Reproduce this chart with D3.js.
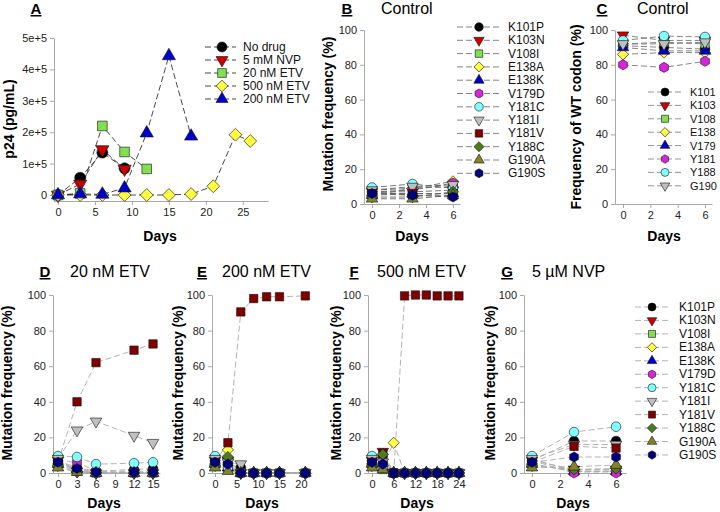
<!DOCTYPE html>
<html>
<head>
<style>
  body { margin: 0; background: #fff; }
  svg text { font-family: Arial, "Liberation Sans", sans-serif; }
  .axis .domain, .axis line { stroke: #a8a8a8; }
  .axis text { fill: #222; font-size: 11px; }
</style>
</head>
<body>
<svg class="chart" width="720" height="512"></svg>
<script src="https://cdn.jsdelivr.net/npm/d3@7"></script>
<script>

// ---- panel A: p24
const aSeries = ['No drug', '5 mM NVP', '20 nM ETV', '500 nM ETV', '200 nM ETV']
const aDays = [
  [0, 3, 6, 9],
  [0, 3, 6, 9],
  [0, 3, 6, 9, 12],
  [0, 3, 6, 9, 12, 15, 18, 21, 24, 26],
  [0, 3, 6, 9, 12, 15, 18]
]
const aP24 = [
  [0, 55000, 135000, 85000],
  [0, 35000, 145000, 83000],
  [0, 5000, 220000, 137000, 83000],
  [0, 0, 0, 0, 0, 0, 3000, 28000, 192000, 172000],
  [0, 3000, 2000, 22000, 197000, 443000, 187000]
]
const aXTicks = [0, 5, 10, 15, 20, 25]
const aYTicks = [0, 100000, 200000, 300000, 400000, 500000]
const aYTickLabels = ['0', '1e+5', '2e+5', '3e+5', '4e+5', '5e+5']

// ---- mutations (panels B, D-G)
const mutations = ['K101P', 'K103N', 'V108I', 'E138A', 'E138K', 'V179D', 'Y181C', 'Y181I', 'Y181V', 'Y188C', 'G190A', 'G190S']
const freqTicks = [0, 20, 40, 60, 80, 100]

const bDays = [0, 3, 6]
const bFreq = [
  [7, 5, 5], [7, 7, 8], [8, 9, 10], [5, 9, 13], [5, 6, 6], [7, 8, 12],
  [9.5, 11.5, 9], [8, 10, 11], [6, 6, 6], [4, 4, 7], [3, 3, 5], [6, 5, 4]
]
const bXTicks = [0, 2, 4, 6]

// ---- panel C: WT codons
const codons = ['K101', 'K103', 'V108', 'E138', 'V179', 'Y181', 'Y188', 'G190']
const cDays = [0, 3, 6]
const cFreq = [
  [91, 90, 89], [97, 94, 94], [92, 93, 92], [86, 87, 87],
  [90, 88, 88], [80, 78.5, 82], [94, 96.5, 96], [92, 92, 93]
]

const dDays = [0, 3, 6, 12, 15]
const dFreq = [
  [7, 3, 1, 2, 2.5], [7, 1, 0, 0, 0], [8, 1, 0, 0, 0], [5, 1, 0, 0, 0],
  [5, 2, 0, 0, 0], [7, 6, 1, 1, 1], [9.5, 9, 5, 5.5, 6], [8, 24, 29, 21, 17],
  [6, 40, 62, 69, 72.5], [4, 0.5, 0, 0, 0], [3, 0.5, 0, 0, 0], [6, 2.5, 0.5, 0.5, 0.5]
]
const dXTicks = [0, 3, 6, 9, 12, 15]

const eDays = [0, 3, 6, 9, 12, 15, 21]
const eFreq = [
  [7, 5, 3, 0, 0, 0, 0], [7, 7, 0, 0, 0, 0, 0], [8, 2, 0, 0, 0, 0, 0], [5, 13, 0, 0, 0, 0, 0],
  [5, 3, 0, 0, 0, 0, 0], [7, 4, 0, 0, 0, 0, 0], [9.5, 3, 0, 0, 0, 0, 0], [8, 6, 5, 0, 0, 0, 0],
  [6, 17, 90.5, 98, 99, 99, 99.5], [4, 9, 0, 0, 0, 0, 0], [3, 1, 0, 0, 0, 0, 0], [6, 5, 0, 0, 0, 0, 0]
]
const eXTicks = [0, 5, 10, 15, 20]

const fDays = [0, 3, 6, 9, 12, 15, 18, 21, 24]
const fFreq = [
  [7, 5, 0, 0, 0, 0, 0, 0, 0], [7, 12, 0, 0, 0, 0, 0, 0, 0], [8, 2, 0, 0, 0, 0, 0, 0, 0],
  [5, 4, 17, 0, 0, 0, 0, 0, 0], [5, 3, 0, 0, 0, 0, 0, 0, 0], [7, 8, 0, 0, 0, 0, 0, 0, 0],
  [9.5, 3, 0, 0, 0, 0, 0, 0, 0], [8, 6, 0, 0, 0, 0, 0, 0, 0], [6, 11, 0, 99.5, 100, 100, 99.5, 99.5, 99.5],
  [4, 10.5, 0, 0, 0, 0, 0, 0, 0], [3, 2, 0, 0, 0, 0, 0, 0, 0], [6, 5, 0, 0, 0, 0, 0, 0, 0]
]
const fXTicks = [0, 6, 12, 18, 24]

const gDays = [0, 3, 6]
const gFreq = [
  [7, 18, 18], [7, 2, 2], [8, 1, 1], [5, 1, 1], [5, 1, 1], [7, 0, 0],
  [9.5, 23, 26], [8, 16, 16], [6, 15, 14], [4, 2, 2.5], [3, 3.5, 4.5], [6, 9, 9]
]
const gXTicks = [0, 2, 4, 6]

// ---- styles
const mutColors = ['#000000', '#cc0000', '#80e050', '#ffff40', '#0000cc', '#dd22dd',
  '#80ffff', '#c0c0c0', '#800000', '#4a7d1c', '#84842a', '#000080']
const mutShapes = ['circle', 'down', 'square', 'diamond', 'up', 'hexagon',
  'circle', 'down', 'square', 'diamond', 'up', 'hexagon']
const aColors = ['#000000', '#cc0000', '#80e050', '#ffff40', '#0000cc']
const aShapes = ['circle', 'down', 'square', 'diamond', 'up']
const cColors = ['#000000', '#cc0000', '#80e050', '#ffff40', '#0000cc', '#dd22dd', '#80ffff', '#c0c0c0']
const cShapes = ['circle', 'down', 'square', 'diamond', 'up', 'hexagon', 'circle', 'down']

const svg = d3.select('.chart')

const symbolHexagon = {
  draw(ctx, size) {
    const r = Math.sqrt(size / (1.5 * Math.sqrt(3)))
    for (let i = 0; i < 6; i++) {
      const a = Math.PI / 3 * i + Math.PI / 6
      if (i === 0) ctx.moveTo(r * Math.cos(a), r * Math.sin(a))
      else ctx.lineTo(r * Math.cos(a), r * Math.sin(a))
    }
    ctx.closePath()
  }
}

function marker(g, shape, color, cx, cy, r) {
  let type = d3.symbolCircle, size = Math.PI * r * r, rot = 0
  if (shape === 'square') { type = d3.symbolSquare; size = Math.pow(1.75 * r, 2) }
  if (shape === 'diamond') { type = d3.symbolSquare; size = Math.pow(1.65 * r, 2); rot = 45 }
  if (shape === 'up' || shape === 'down') {
    type = d3.symbolTriangle; size = 0.433 * Math.pow(2.4 * r, 2)
    if (shape === 'down') rot = 180
  }
  if (shape === 'hexagon') { type = symbolHexagon; size = 2.598 * Math.pow(1.05 * r, 2) }
  g.append('path')
    .attr('d', d3.symbol(type, size)())
    .attr('transform', `translate(${cx},${cy}) rotate(${rot})`)
    .attr('fill', color)
    .attr('stroke', '#111')
    .attr('stroke-width', 0.6)
}

function panel(o) {
  const x = d3.scaleLinear().domain(o.xDomain).range(o.xRange)
  const y = d3.scaleLinear().domain(o.yDomain).range(o.yRange)

  svg.append('g').attr('class', 'axis')
    .attr('transform', `translate(0,${o.yRange[0]})`)
    .call(d3.axisBottom(x).tickValues(o.xTicks).tickSize(4).tickSizeOuter(0).tickPadding(3))

  svg.append('g').attr('class', 'axis')
    .attr('transform', `translate(${o.xRange[0]},0)`)
    .call(d3.axisLeft(y).tickValues(o.yTicks)
      .tickFormat((d, i) => o.yLabels ? o.yLabels[i] : d)
      .tickSize(4).tickSizeOuter(0).tickPadding(3))

  // letter + title
  svg.append('text').attr('x', o.letter[1]).attr('y', o.letter[2])
    .attr('text-anchor', 'middle').attr('font-size', 15).attr('font-weight', 'bold')
    .attr('text-decoration', 'underline').text(o.letter[0])
  if (o.title) {
    svg.append('text').attr('x', o.title[1]).attr('y', o.letter[2])
      .attr('font-size', 16).text(o.title[0])
  }

  svg.append('text').attr('x', o.xLabelX).attr('y', o.xLabelY)
    .attr('text-anchor', 'middle').attr('font-size', 14).attr('font-weight', 'bold').text('Days')

  svg.append('text')
    .attr('transform', `translate(${o.yLabelPos[0]},${o.yLabelPos[1]}) rotate(-90)`)
    .attr('text-anchor', 'middle').attr('font-size', 14).attr('font-weight', 'bold').text(o.yLabel)

  return { x, y }
}

function drawSeries(sc, daysList, valueList, colors, shapes, r, lineColor) {
  const line = d3.line().x(d => sc.x(d[0])).y(d => sc.y(d[1]))
  const gl = svg.append('g')
  const gm = svg.append('g')
  valueList.forEach((vals, i) => {
    const days = Array.isArray(daysList[0]) ? daysList[i] : daysList
    const pts = days.map((d, j) => [d, vals[j]])
    gl.append('path').attr('d', line(pts)).attr('fill', 'none')
      .attr('stroke', lineColor).attr('stroke-width', 0.9).attr('stroke-dasharray', '6,3')
    pts.forEach(p => marker(gm, shapes[i], colors[i], sc.x(p[0]), sc.y(p[1]), r))
  })
}

function legend(names, colors, shapes, x0, x1, mx, tx, y0, step, r, lineColor, fs) {
  const g = svg.append('g')
  names.forEach((n, i) => {
    const yy = y0 + i * step
    g.append('line').attr('x1', x0).attr('x2', x1).attr('y1', yy).attr('y2', yy)
      .attr('stroke', lineColor).attr('stroke-width', 0.9).attr('stroke-dasharray', '6,3')
    marker(g, shapes[i], colors[i], mx, yy, r)
    g.append('text').attr('x', tx).attr('y', yy + 4).attr('font-size', fs || 12).attr('fill', '#111').text(n)
  })
}

// ---- A
const scA = panel({
  xDomain: [-0.54, 28.4], xRange: [54, 268], yDomain: [-19100, 500000], yRange: [201, 38],
  xTicks: aXTicks, yTicks: aYTicks, yLabels: aYTickLabels,
  letter: ['A', 36, 14], xLabelX: 160, xLabelY: 241,
  yLabel: 'p24 (pg/mL)', yLabelPos: [14, 119]
})
drawSeries(scA, aDays, aP24, aColors, aShapes, 5.5, '#333')
legend(aSeries, aColors, aShapes, 205, 236, 222, 243, 47, 13, 5, '#333')

// ---- B
const scB = panel({
  xDomain: [-0.593, 6.52], xRange: [364, 460], yDomain: [0, 100], yRange: [204, 30],
  xTicks: bXTicks, yTicks: freqTicks,
  letter: ['B', 347, 14], title: ['Control', 381], xLabelX: 412, xLabelY: 241,
  yLabel: 'Mutation frequency (%)', yLabelPos: [333, 114]
})
drawSeries(scB, bDays, bFreq, mutColors, mutShapes, 4.8, '#666')
legend(mutations, mutColors, mutShapes, 457, 499, 479, 508, 27, 13.3, 4.3, '#777')

// ---- C
const scC = panel({
  xDomain: [-0.585, 6.51], xRange: [615, 712], yDomain: [0, 100], yRange: [204, 30],
  xTicks: bXTicks, yTicks: freqTicks,
  letter: ['C', 602, 14], title: ['Control', 637], xLabelX: 664, xLabelY: 241,
  yLabel: 'Frequency of WT codon (%)', yLabelPos: [581, 117]
})
drawSeries(scC, cDays, cFreq, cColors, cShapes, 4.8, '#777')
legend(codons, cColors, cShapes, 648, 681, 665, 690, 92, 13.4, 4, '#888', 11)

// ---- D
const scD = panel({
  xDomain: [-0.79, 16.1], xRange: [53, 160], yDomain: [0, 100], yRange: [473, 295],
  xTicks: dXTicks, yTicks: freqTicks,
  letter: ['D', 45, 277], title: ['20 nM ETV', 70], xLabelX: 104, xLabelY: 508,
  yLabel: 'Mutation frequency (%)', yLabelPos: [12, 383]
})
drawSeries(scD, dDays, dFreq, mutColors, mutShapes, 4.8, '#aaa')

// ---- E
const scE = panel({
  xDomain: [-0.7, 22.56], xRange: [212, 312], yDomain: [0, 100], yRange: [473, 295],
  xTicks: eXTicks, yTicks: freqTicks,
  letter: ['E', 202, 277], title: ['200 nM ETV', 222], xLabelX: 262, xLabelY: 508,
  yLabel: 'Mutation frequency (%)', yLabelPos: [183, 383]
})
drawSeries(scE, eDays, eFreq, mutColors, mutShapes, 4.8, '#aaa')

// ---- F
const scF = panel({
  xDomain: [-1.1, 25.4], xRange: [368, 464], yDomain: [0, 100], yRange: [473, 295],
  xTicks: fXTicks, yTicks: freqTicks,
  letter: ['F', 354, 277], title: ['500 nM ETV', 377], xLabelX: 417, xLabelY: 508,
  yLabel: 'Mutation frequency (%)', yLabelPos: [341, 383]
})
drawSeries(scF, fDays, fFreq, mutColors, mutShapes, 4.8, '#aaa')

// ---- G
const scG = panel({
  xDomain: [-0.571, 6.71], xRange: [524, 626], yDomain: [0, 100], yRange: [473, 295],
  xTicks: gXTicks, yTicks: freqTicks,
  letter: ['G', 507, 277], title: ['5 µM NVP', 532], xLabelX: 573, xLabelY: 508,
  yLabel: 'Mutation frequency (%)', yLabelPos: [495, 383]
})
drawSeries(scG, gDays, gFreq, mutColors, mutShapes, 4.8, '#aaa')
legend(mutations, mutColors, mutShapes, 635, 668, 652, 679, 307, 13.45, 4, '#aaa')

</script>
</body>
</html>
